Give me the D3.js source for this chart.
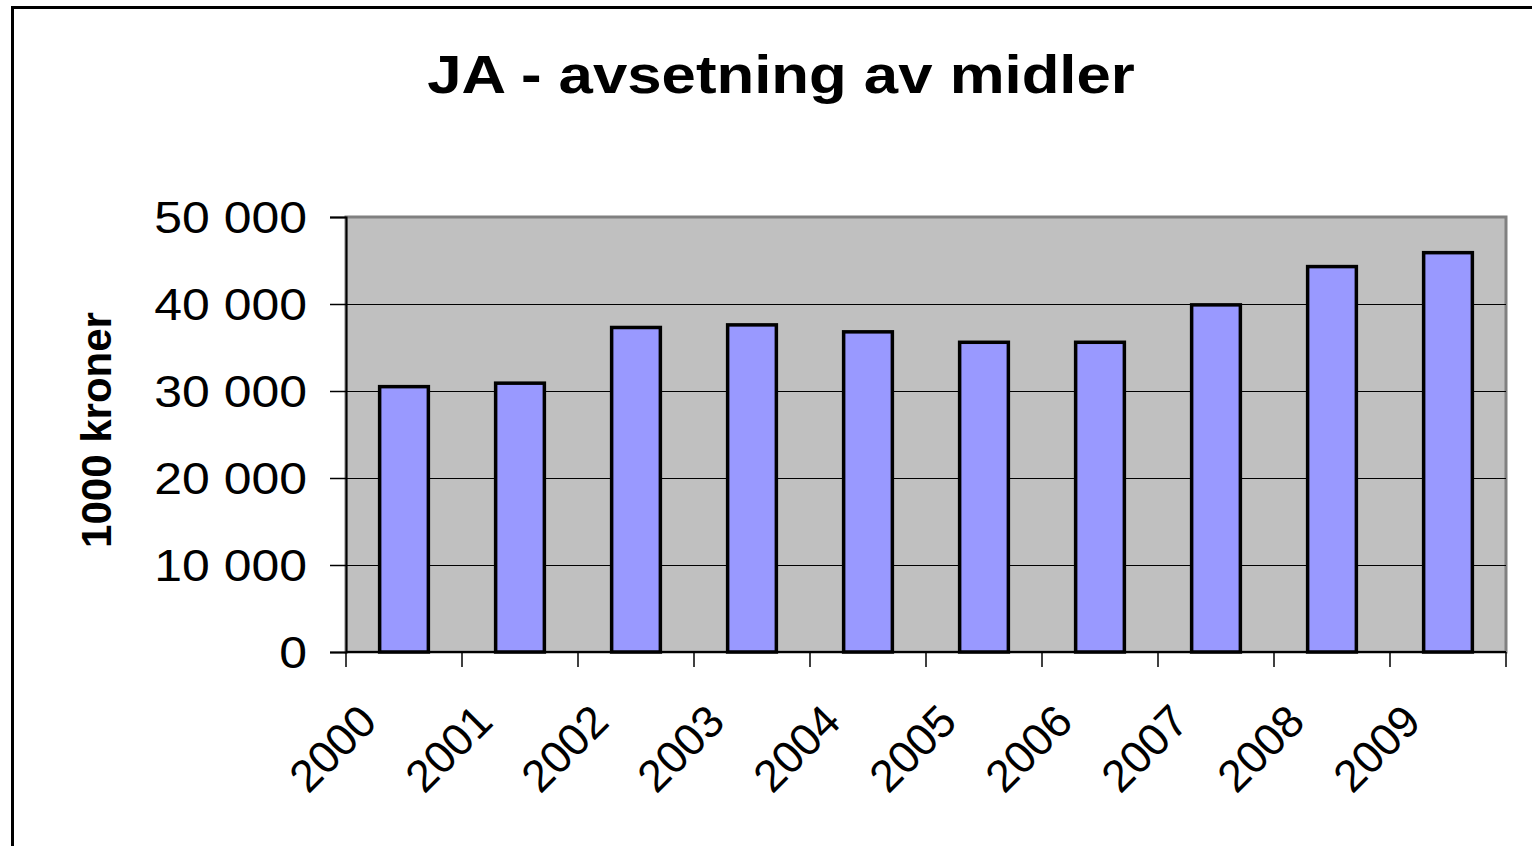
<!DOCTYPE html>
<html>
<head>
<meta charset="utf-8">
<script src="https://cdn.jsdelivr.net/npm/d3@7"></script>
<style>
  html, body { margin: 0; padding: 0; background: #fff; overflow: hidden; }
  svg { display: block; font-family: "Liberation Sans", Arial, sans-serif; }
</style>
</head>
<body>
<script>
// Chart data
const years = ["2000", "2001", "2002", "2003", "2004", "2005", "2006", "2007", "2008", "2009"];
const amounts = [30500, 30900, 37300, 37600, 36800, 35600, 35600, 39900, 44300, 45900];
const yTicks = [0, 10000, 20000, 30000, 40000, 50000];
const titleText = "JA - avsetning av midler";
const yLabelText = "1000 kroner";

const width = 1532;
const height = 846;
const plot = { left: 346, right: 1506, top: 217, bottom: 652 };

const svg = d3.select("body")
  .append("svg")
  .attr("width", width)
  .attr("height", height);

// Outer chart frame (runs off the right and bottom of the picture)
svg.append("rect")
  .attr("x", 12.5)
  .attr("y", 7.5)
  .attr("width", 1560)
  .attr("height", 900)
  .attr("fill", "none")
  .attr("stroke", "#000")
  .attr("stroke-width", 3);

// Scales
const x = d3.scaleBand()
  .domain(years)
  .range([plot.left, plot.right])
  .paddingInner(0.58)
  .paddingOuter(0.29);

const y = d3.scaleLinear()
  .domain([0, 50000])
  .range([plot.bottom, plot.top]);

// Plot area background
svg.append("rect")
  .attr("x", plot.left)
  .attr("y", plot.top)
  .attr("width", plot.right - plot.left)
  .attr("height", plot.bottom - plot.top)
  .attr("fill", "#c0c0c0")
  .attr("stroke", "#808080")
  .attr("stroke-width", 3);

// Gridlines
svg.append("g")
  .selectAll("line")
  .data(yTicks.filter(d => d > 0 && d < 50000))
  .enter()
  .append("line")
  .attr("x1", plot.left)
  .attr("x2", plot.right)
  .attr("y1", d => Math.round(y(d)) + 0.5)
  .attr("y2", d => Math.round(y(d)) + 0.5)
  .attr("stroke", "#000")
  .attr("stroke-width", 1);

// Bars
svg.append("g")
  .selectAll("rect")
  .data(amounts)
  .enter()
  .append("rect")
  .attr("x", (d, i) => x(years[i]))
  .attr("y", d => y(d))
  .attr("width", x.bandwidth())
  .attr("height", d => y(0) - y(d))
  .attr("fill", "#9999ff")
  .attr("stroke", "#000")
  .attr("stroke-width", 3.5);

// Y axis
const fmt = d => d3.format(",")(d).replace(/,/g, " ");
const yAxis = svg.append("g")
  .attr("transform", `translate(${plot.left},0)`)
  .call(d3.axisLeft(y).tickValues(yTicks).tickSize(16).tickFormat(fmt));
yAxis.select(".domain").attr("stroke", "#000").attr("stroke-width", 2);
yAxis.selectAll(".tick line").attr("stroke", "#000").attr("stroke-width", 1.5);
yAxis.selectAll(".tick text")
  .attr("x", 0)
  .attr("dy", "0.34em")
  .attr("transform", "translate(-39,0) scale(1.11,1)")
  .attr("font-size", 45)
  .attr("font-family", "Liberation Sans, Arial, sans-serif")
  .attr("fill", "#000");

// X axis line
svg.append("line")
  .attr("x1", plot.left)
  .attr("x2", plot.right)
  .attr("y1", plot.bottom)
  .attr("y2", plot.bottom)
  .attr("stroke", "#000")
  .attr("stroke-width", 2);

// X ticks at the category boundaries
const bounds = years.map(d => x(d) - x.step() * x.paddingInner() / 2);
bounds.push(plot.right);
svg.append("g")
  .selectAll("line")
  .data(bounds)
  .enter()
  .append("line")
  .attr("x1", d => d)
  .attr("x2", d => d)
  .attr("y1", plot.bottom)
  .attr("y2", plot.bottom + 15)
  .attr("stroke", "#000")
  .attr("stroke-width", 1.5);

// X labels, rotated
svg.append("g")
  .selectAll("text")
  .data(years)
  .enter()
  .append("text")
  .attr("transform", d => `translate(${x(d) + x.bandwidth() / 2 - 25},724) rotate(-45)`)
  .attr("text-anchor", "end")
  .attr("font-size", 45)
  .attr("fill", "#000")
  .text(d => d);

// Title
svg.append("text")
  .attr("transform", "translate(781,93) scale(1.165,1)")
  .attr("text-anchor", "middle")
  .attr("font-size", 53)
  .attr("font-weight", "bold")
  .attr("fill", "#000")
  .text(titleText);

// Y axis title
svg.append("text")
  .attr("transform", "translate(111,430) rotate(-90)")
  .attr("text-anchor", "middle")
  .attr("font-size", 42)
  .attr("font-weight", "bold")
  .attr("fill", "#000")
  .text(yLabelText);
</script>
</body>
</html>
